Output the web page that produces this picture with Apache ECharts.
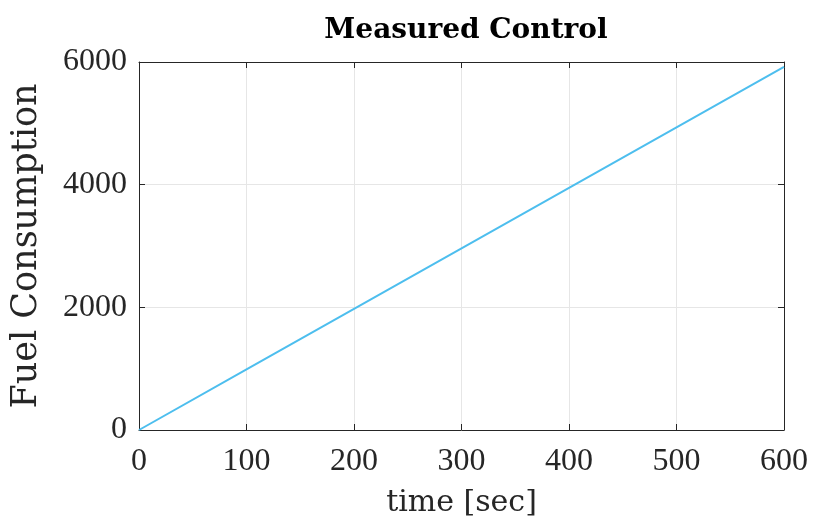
<!DOCTYPE html>
<html>
<head>
<meta charset="utf-8">
<script src="https://cdn.jsdelivr.net/npm/echarts@6/dist/echarts.min.js"></script>
<style>
html, body { margin: 0; padding: 0; background: #fff; }
#main { width: 813px; height: 520px; }
</style>
</head>
<body>
<div id="main"></div>
<script>
// values
var timeSec = [0, 100, 200, 300, 400, 500, 600];
var fuelUsed = [0, 987, 1973, 2960, 3947, 4933, 5920];
var xTicks = [0, 100, 200, 300, 400, 500, 600];
var yTicks = [0, 2000, 4000, 6000];

var points = [];
for (var i = 0; i < timeSec.length; i++) {
    points.push([timeSec[i], fuelUsed[i]]);
}

var font = 'Liberation Serif';
var nameFont = 'DejaVu Serif';
var axisCol = '#262626';

function plain(v) { return String(v); }

var chart = echarts.init(document.getElementById('main'));
var option = {
    animation: false,
    title: {
        text: 'Measured Control',
        left: 461,
        top: 12,
        textAlign: 'center',
        textStyle: { fontFamily: nameFont, fontWeight: 'bold', fontSize: 28, color: '#000' }
    },
    grid: { left: 139, right: 29, top: 62, bottom: 90, containLabel: false, outerBoundsMode: 'none' },
    xAxis: [{
        type: 'value',
        min: xTicks[0],
        max: xTicks[xTicks.length - 1],
        interval: 100,
        name: 'time [sec]',
        nameLocation: 'middle',
        nameGap: 58,
        nameTextStyle: { fontFamily: nameFont, fontSize: 30, color: axisCol },
        axisLine: { show: true, onZero: false, lineStyle: { color: axisCol, width: 1 } },
        axisTick: { inside: true, length: 6, lineStyle: { color: axisCol } },
        axisLabel: { fontFamily: font, fontSize: 32, color: axisCol, margin: 16, formatter: plain },
        splitLine: { show: true, lineStyle: { color: '#e6e6e6' } }
    }, {
        type: 'value',
        position: 'top',
        min: xTicks[0],
        max: xTicks[xTicks.length - 1],
        interval: 100,
        axisLine: { show: true, onZero: false, lineStyle: { color: axisCol, width: 1 } },
        axisTick: { inside: true, length: 6, lineStyle: { color: axisCol } },
        axisLabel: { show: false },
        splitLine: { show: false }
    }],
    yAxis: [{
        type: 'value',
        min: yTicks[0],
        max: yTicks[yTicks.length - 1],
        interval: 2000,
        name: 'Fuel Consumption',
        nameLocation: 'middle',
        nameGap: 95,
        nameTextStyle: { fontFamily: nameFont, fontSize: 35, color: axisCol },
        axisLine: { show: true, onZero: false, lineStyle: { color: axisCol, width: 1 } },
        axisTick: { inside: true, length: 6, lineStyle: { color: axisCol } },
        axisLabel: { fontFamily: font, fontSize: 32, color: axisCol, margin: 12, formatter: plain },
        splitLine: { show: true, lineStyle: { color: '#e6e6e6' } }
    }, {
        type: 'value',
        position: 'right',
        min: yTicks[0],
        max: yTicks[yTicks.length - 1],
        interval: 2000,
        axisLine: { show: true, onZero: false, lineStyle: { color: axisCol, width: 1 } },
        axisTick: { inside: true, length: 6, lineStyle: { color: axisCol } },
        axisLabel: { show: false },
        splitLine: { show: false }
    }],
    series: [{
        type: 'line',
        data: points,
        showSymbol: false,
        lineStyle: { color: '#4DBEEE', width: 2 }
    }]
};
chart.setOption(option);
</script>
</body>
</html>
